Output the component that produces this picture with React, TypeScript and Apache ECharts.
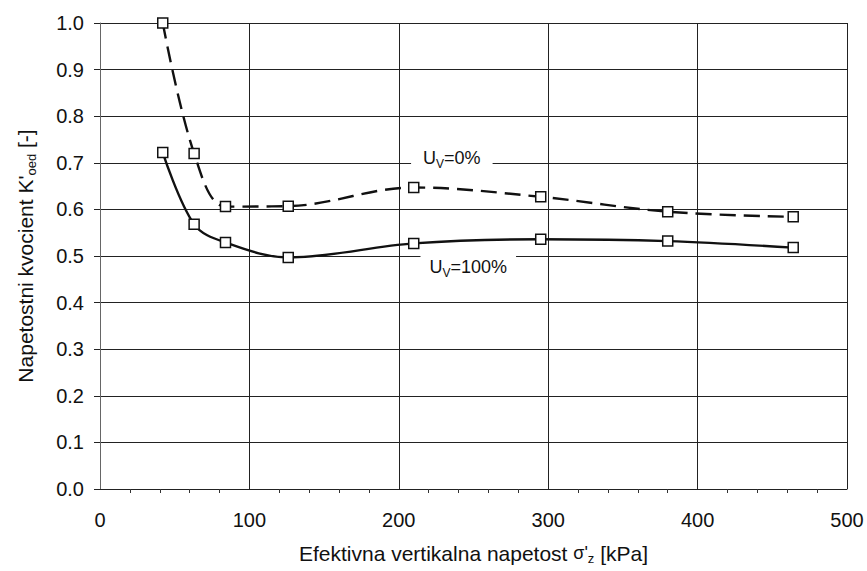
import React, { useEffect, useRef } from "react";
import * as echarts from "echarts";

const xStress = [42, 63, 84, 126, 210, 295, 380, 464];
const kU0 = [1.0, 0.72, 0.606, 0.607, 0.647, 0.627, 0.595, 0.584];
const kU100 = [0.722, 0.568, 0.529, 0.497, 0.527, 0.536, 0.532, 0.518];
const yTicks = [0, 0.1, 0.2, 0.3, 0.4, 0.5, 0.6, 0.7, 0.8, 0.9, 1.0];
const xTicks = [0, 100, 200, 300, 400, 500];
const label0 = { x: 235.5, y: 0.71, sub: "V", pre: "U", post: "=0%" };
const label100 = { x: 246.5, y: 0.476, sub: "V", pre: "U", post: "=100%" };

const FONT = "Liberation Sans, Arial, sans-serif";
const INK = "#111";

const richLabel = {
  a: { fontSize: 18, fontFamily: FONT, color: INK, lineHeight: 24 },
  b: { fontSize: 12, fontFamily: FONT, color: INK, lineHeight: 24, verticalAlign: "bottom", padding: [8, 0, 0, 0] },
};

function pts(xs: number[], ys: number[]) {
  return xs.map((x, i) => [x, ys[i]]);
}

export default function App() {
  const ref = useRef<HTMLDivElement>(null);
  useEffect(() => {
    if (!ref.current) return;
    const chart = echarts.init(ref.current, undefined, { renderer: "svg" });
    const markerStyle = { color: "#fff", borderColor: INK, borderWidth: 1.5 };
    const mk = (l: typeof label0, padX: number) => ({
      symbol: "rect",
      symbolSize: 1,
      silent: true,
      itemStyle: { color: "rgba(0,0,0,0)" },
      data: [
        {
          coord: [l.x, l.y],
          label: {
            show: true,
            position: "inside",
            formatter: `{a|${l.pre}}{b|${l.sub}}{a|${l.post}}`,
            backgroundColor: "#fff",
            padding: [2, padX, 2, padX],
            rich: richLabel,
          },
        },
      ],
    });
    chart.setOption({
      animation: false,
      backgroundColor: "#fff",
      grid: {
        left: 100,
        right: 20,
        top: 23,
        bottom: 82,
        containLabel: false,
        outerBoundsMode: "none",
      },
      xAxis: {
        type: "value",
        min: xTicks[0],
        max: xTicks[xTicks.length - 1],
        interval: 100,
        name: "{n|Efektivna vertikalna napetost }{s|σ'}{sub|z}{n| [kPa]}",
        nameLocation: "middle",
        nameGap: 52,
        nameTextStyle: {
          fontSize: 21,
          fontFamily: FONT,
          color: INK,
          rich: {
            n: { fontSize: 21, fontFamily: FONT, color: INK, lineHeight: 24 },
            s: { fontSize: 18, fontFamily: FONT, color: INK, lineHeight: 24 },
            sub: { fontSize: 13, fontFamily: FONT, color: INK, lineHeight: 24, verticalAlign: "bottom", padding: [6, 0, 0, 0] },
          },
        },
        axisLine: { show: true, lineStyle: { color: "#222", width: 1 } },
        axisTick: { show: false },
        minorTick: { show: true, splitNumber: 5, length: 4, lineStyle: { color: "#333" } },
        axisLabel: { fontSize: 20, fontFamily: FONT, color: INK, margin: 21 },
        splitLine: { show: true, lineStyle: { color: "#222", width: 1 } },
      },
      yAxis: {
        type: "value",
        min: yTicks[0],
        max: yTicks[yTicks.length - 1],
        interval: 0.1,
        name: "{n|Napetostni kvocient K'}{sub|oed}{n| [-]}",
        nameLocation: "middle",
        nameGap: 62,
        nameTextStyle: {
          fontSize: 21,
          fontFamily: FONT,
          color: INK,
          rich: {
            n: { fontSize: 21, fontFamily: FONT, color: INK, lineHeight: 26 },
            sub: { fontSize: 13, fontFamily: FONT, color: INK, lineHeight: 26, verticalAlign: "bottom", padding: [7, 0, 0, 0] },
          },
        },
        axisLine: { show: true, lineStyle: { color: "#666", width: 1 } },
        axisTick: { show: true, inside: false, length: 6, lineStyle: { color: "#222" } },
        axisLabel: {
          fontSize: 20,
          fontFamily: FONT,
          color: INK,
          margin: 16,
          formatter: (v: number) => v.toFixed(1),
        },
        splitLine: { show: true, lineStyle: { color: "#222", width: 1 } },
      },
      series: [
        {
          type: "line",
          name: "Uv=0%",
          data: pts(xStress, kU0),
          smooth: 0.35,
          symbol: "rect",
          symbolSize: 10,
          itemStyle: markerStyle,
          lineStyle: { color: INK, width: 2.4, type: [16, 8] },
          z: 3,
          markPoint: mk(label0, 12),
        },
        {
          type: "line",
          name: "Uv=100%",
          data: pts(xStress, kU100),
          smooth: 0.35,
          symbol: "rect",
          symbolSize: 10,
          itemStyle: markerStyle,
          lineStyle: { color: INK, width: 2.4 },
          z: 3,
          markPoint: mk(label100, 9),
        },
      ],
    });
    return () => chart.dispose();
  }, []);
  return (
    <div
      ref={ref}
      style={{ position: "fixed", left: 0, top: 0, width: 867, height: 571, background: "#fff" }}
    />
  );
}
